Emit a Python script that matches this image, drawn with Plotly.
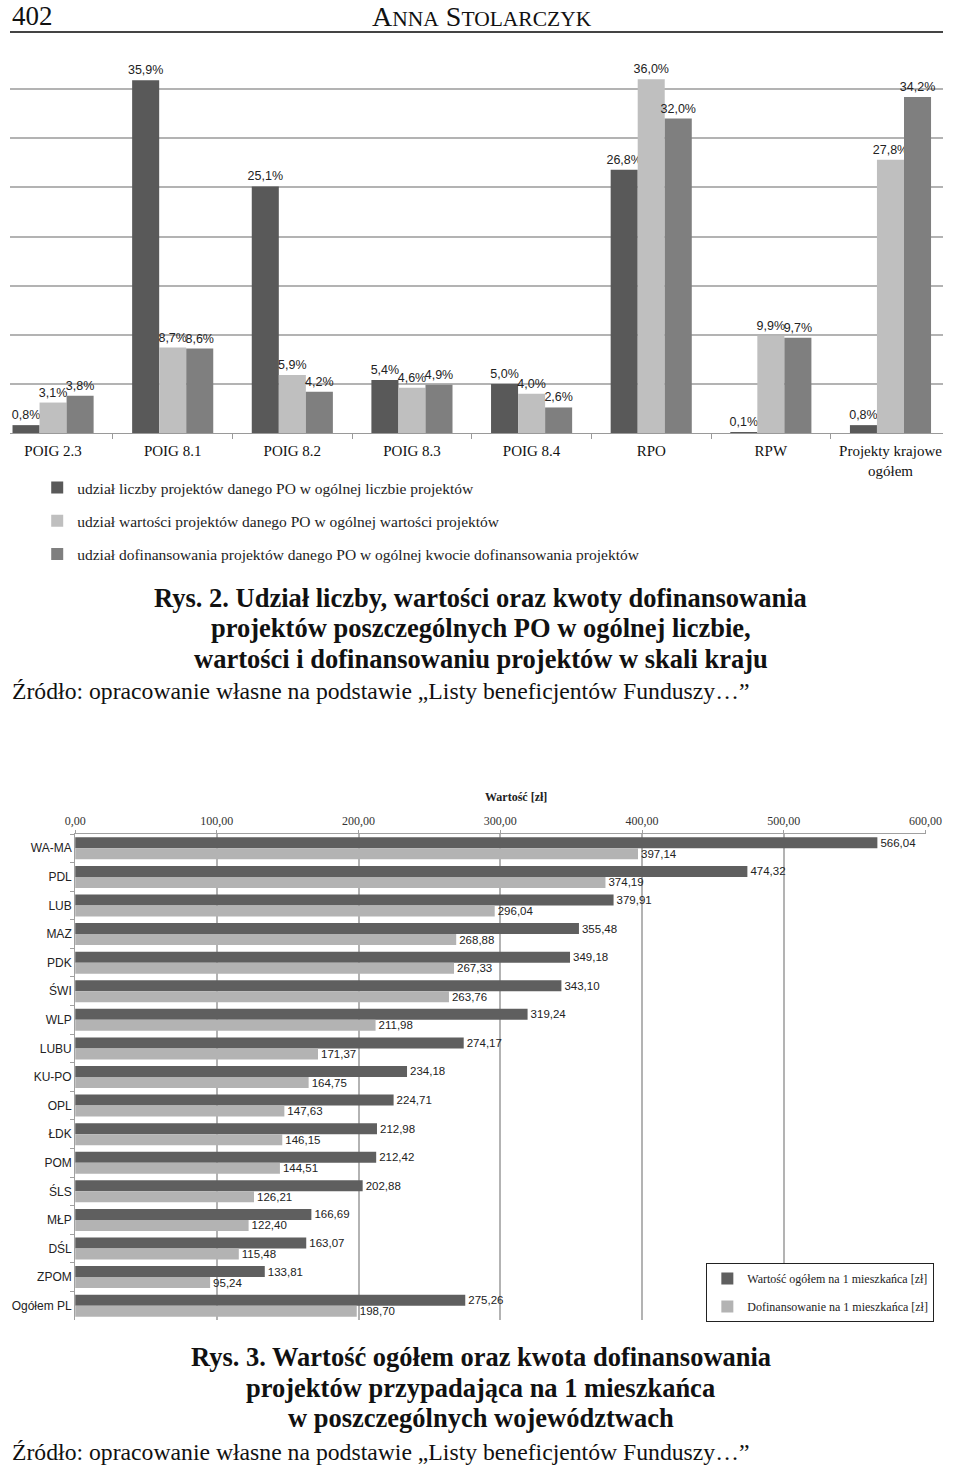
import plotly.graph_objects as go

# ---------------- data ----------------
programs = ["POIG 2.3", "POIG 8.1", "POIG 8.2", "POIG 8.3", "POIG 8.4", "RPO", "RPW",
            "Projekty krajowe<br>ogółem"]
share_count = [0.8, 35.9, 25.1, 5.4, 5.0, 26.8, 0.1, 0.8]
share_value = [3.1, 8.7, 5.9, 4.6, 4.0, 36.0, 9.9, 27.8]
share_cofin = [3.8, 8.6, 4.2, 4.9, 2.6, 32.0, 9.7, 34.2]
series1_names = [
    "udział liczby projektów danego PO w ogólnej liczbie projektów",
    "udział wartości projektów danego PO w ogólnej wartości projektów",
    "udział dofinansowania projektów danego PO w ogólnej kwocie dofinansowania projektów",
]

regions = ["WA-MA", "PDL", "LUB", "MAZ", "PDK", "ŚWI", "WLP", "LUBU", "KU-PO", "OPL",
           "ŁDK", "POM", "ŚLS", "MŁP", "DŚL", "ZPOM", "Ogółem PL"]
value_per_capita = [566.04, 474.32, 379.91, 355.48, 349.18, 343.10, 319.24, 274.17, 234.18,
                    224.71, 212.98, 212.42, 202.88, 166.69, 163.07, 133.81, 275.26]
cofin_per_capita = [397.14, 374.19, 296.04, 268.88, 267.33, 263.76, 211.98, 171.37, 164.75,
                    147.63, 146.15, 144.51, 126.21, 122.40, 115.48, 95.24, 198.70]
series2_names = ["Wartość ogółem na 1 mieszkańca [zł]", "Dofinansowanie na 1 mieszkańca [zł]"]

# ---------------- layout helpers ----------------
W, H = 960.0, 1466.0
def sx(X):
    # page position -> figure position (the photographed page is slightly narrowed)
    return max(0.0, min(W, (X - 10.0) / 0.97))
def px(p):
    return p / W
def py(p):
    return (H - p) / H

SERIF = "Liberation Serif, Times New Roman, serif"
SANS = "Liberation Sans, Arial, sans-serif"

c_dark1, c_light1, c_mid1 = "#595959", "#bfbfbf", "#7f7f7f"
c_dark2, c_light2 = "#5f5f5f", "#b3b3b3"

fig = go.Figure()

# ---------------- chart 1 (vertical grouped bars) ----------------
bw1 = 0.226
for vals, col, name, off, grp in [
    (share_count, c_dark1, series1_names[0], -1.5 * bw1, "a"),
    (share_value, c_light1, series1_names[1], -0.5 * bw1, "b"),
    (share_cofin, c_mid1, series1_names[2], 0.5 * bw1, "c"),
]:
    fig.add_trace(go.Bar(
        x=programs, y=vals, name=name, marker_color=col, marker_line_width=0,
        width=bw1, offset=off, xaxis="x", yaxis="y",
        texttemplate="%{y:.1f}%", textposition="outside", constraintext="none",
        textfont=dict(family=SANS, size=12.5, color="#222"), cliponaxis=False,
        legend="legend", legendgroup=grp,
    ))

# ---------------- chart 2 (horizontal grouped bars) ----------------
bw2 = 0.385
for vals, col, name, off, grp in [
    (value_per_capita, c_dark2, series2_names[0], -bw2, "d"),
    (cofin_per_capita, c_light2, series2_names[1], 0.0, "e"),
]:
    fig.add_trace(go.Bar(
        y=regions, x=vals, orientation="h", name=name, marker_color=col,
        marker_line_width=0, width=bw2, offset=off, xaxis="x2", yaxis="y2",
        texttemplate="%{x:.2f}", textposition="outside", constraintext="none",
        textfont=dict(family=SANS, size=11.5, color="#222"), cliponaxis=False,
        legend="legend2", legendgroup=grp,
    ))

grid = "#b3b3b3"
fig.update_layout(
    width=960, height=1466, autosize=False,
    margin=dict(l=0, r=0, t=0, b=0),
    paper_bgcolor="white", plot_bgcolor="white",
    separators=", ",
    barmode="group",
    showlegend=True,
    xaxis=dict(domain=[0, 1], anchor="y", type="category",
               range=[-0.360, 7.439], showline=True, linecolor="#9a9a9a", linewidth=1,
               ticks="outside", tickson="boundaries", ticklen=5, tickcolor="#9a9a9a",
               ticklabelstandoff=4,
               showgrid=False, tickfont=dict(family=SERIF, size=15, color="#111")),
    yaxis=dict(domain=[py(433), py(40)], anchor="x", range=[0, 40], dtick=5,
               showticklabels=False, showgrid=True, gridcolor=grid, gridwidth=1.5,
               zeroline=False, showline=False, ticks=""),
    xaxis2=dict(domain=[px(sx(75)), px(942)], anchor="y2", side="top", range=[0, 600],
                dtick=100, tickformat=".2f", showgrid=True, gridcolor=grid, gridwidth=1.5,
                showline=True, linecolor="#a0a0a0", ticks="outside", ticklen=3,
                tickcolor="#a0a0a0", zeroline=False,
                tickfont=dict(family=SERIF, size=12, color="#333")),
    yaxis2=dict(domain=[py(1320), py(834)], anchor="x2", type="category",
                autorange="reversed", showline=True, linecolor="#a0a0a0",
                ticks="outside", tickson="boundaries", ticklen=4, tickcolor="#a0a0a0",
                showgrid=False, tickfont=dict(family=SANS, size=12, color="#222")),
    legend=dict(x=px(28), y=py(471), xanchor="left", yanchor="top",
                orientation="v", bgcolor="rgba(0,0,0,0)", borderwidth=0,
                font=dict(family=SERIF, size=15.5, color="#222"),
                tracegroupgap=10, itemwidth=30, traceorder="grouped"),
    legend2=dict(x=px(sx(705)), y=py(1263), xanchor="left", yanchor="top",
                 orientation="v", bgcolor="white", bordercolor="#222", borderwidth=1,
                 font=dict(family=SERIF, size=12, color="#222"),
                 itemwidth=30, traceorder="grouped", tracegroupgap=9),
)

# ---------------- page text ----------------
ann = []
def txt(text, x, y, size, bold=False, xanchor="center", yanchor="middle", family=SERIF,
        color="#111"):
    ann.append(dict(text=("<b>%s</b>" % text) if bold else text, x=px(x), y=py(y),
                    xref="paper", yref="paper", xanchor=xanchor, yanchor=yanchor,
                    showarrow=False, borderpad=0,
                    font=dict(family=family, size=size, color=color)))

txt("402", 1, 0, 27, xanchor="left", yanchor="top")
txt("A<span style='font-size:21.5px'>NNA</span> S<span style='font-size:21.5px'>TOLARCZYK</span>",
    sx(481), 0, 28, yanchor="top")

txt("Wartość [zł]", sx(515), 797, 12, bold=True, color="#222")

CX = sx(480)
txt("Rys. 2. Udział liczby, wartości oraz kwoty dofinansowania", CX, 598, 26.5, bold=True)
txt("projektów poszczególnych PO w ogólnej liczbie,", CX, 628, 26.5, bold=True)
txt("wartości i dofinansowaniu projektów w skali kraju", CX, 659, 26.5, bold=True)
txt("Źródło: opracowanie własne na podstawie „Listy beneficjentów Funduszy…”", 1, 691, 23.7,
    xanchor="left")

txt("Rys. 3. Wartość ogółem oraz kwota dofinansowania", CX, 1357, 26.5, bold=True)
txt("projektów przypadająca na 1 mieszkańca", CX, 1388, 26.5, bold=True)
txt("w poszczególnych województwach", CX, 1418, 26.5, bold=True)
txt("Źródło: opracowanie własne na podstawie „Listy beneficjentów Funduszy…”", 1, 1452, 23.7,
    xanchor="left")

fig.update_layout(annotations=ann)
fig.add_shape(type="line", xref="paper", yref="paper", x0=0, x1=1, y0=py(32), y1=py(32),
              line=dict(color="#444", width=2))

fig.write_html("out.html", config={"displayModeBar": False},
               post_script="document.body.style.margin='0';"
                           "document.documentElement.style.overflow='hidden';")
